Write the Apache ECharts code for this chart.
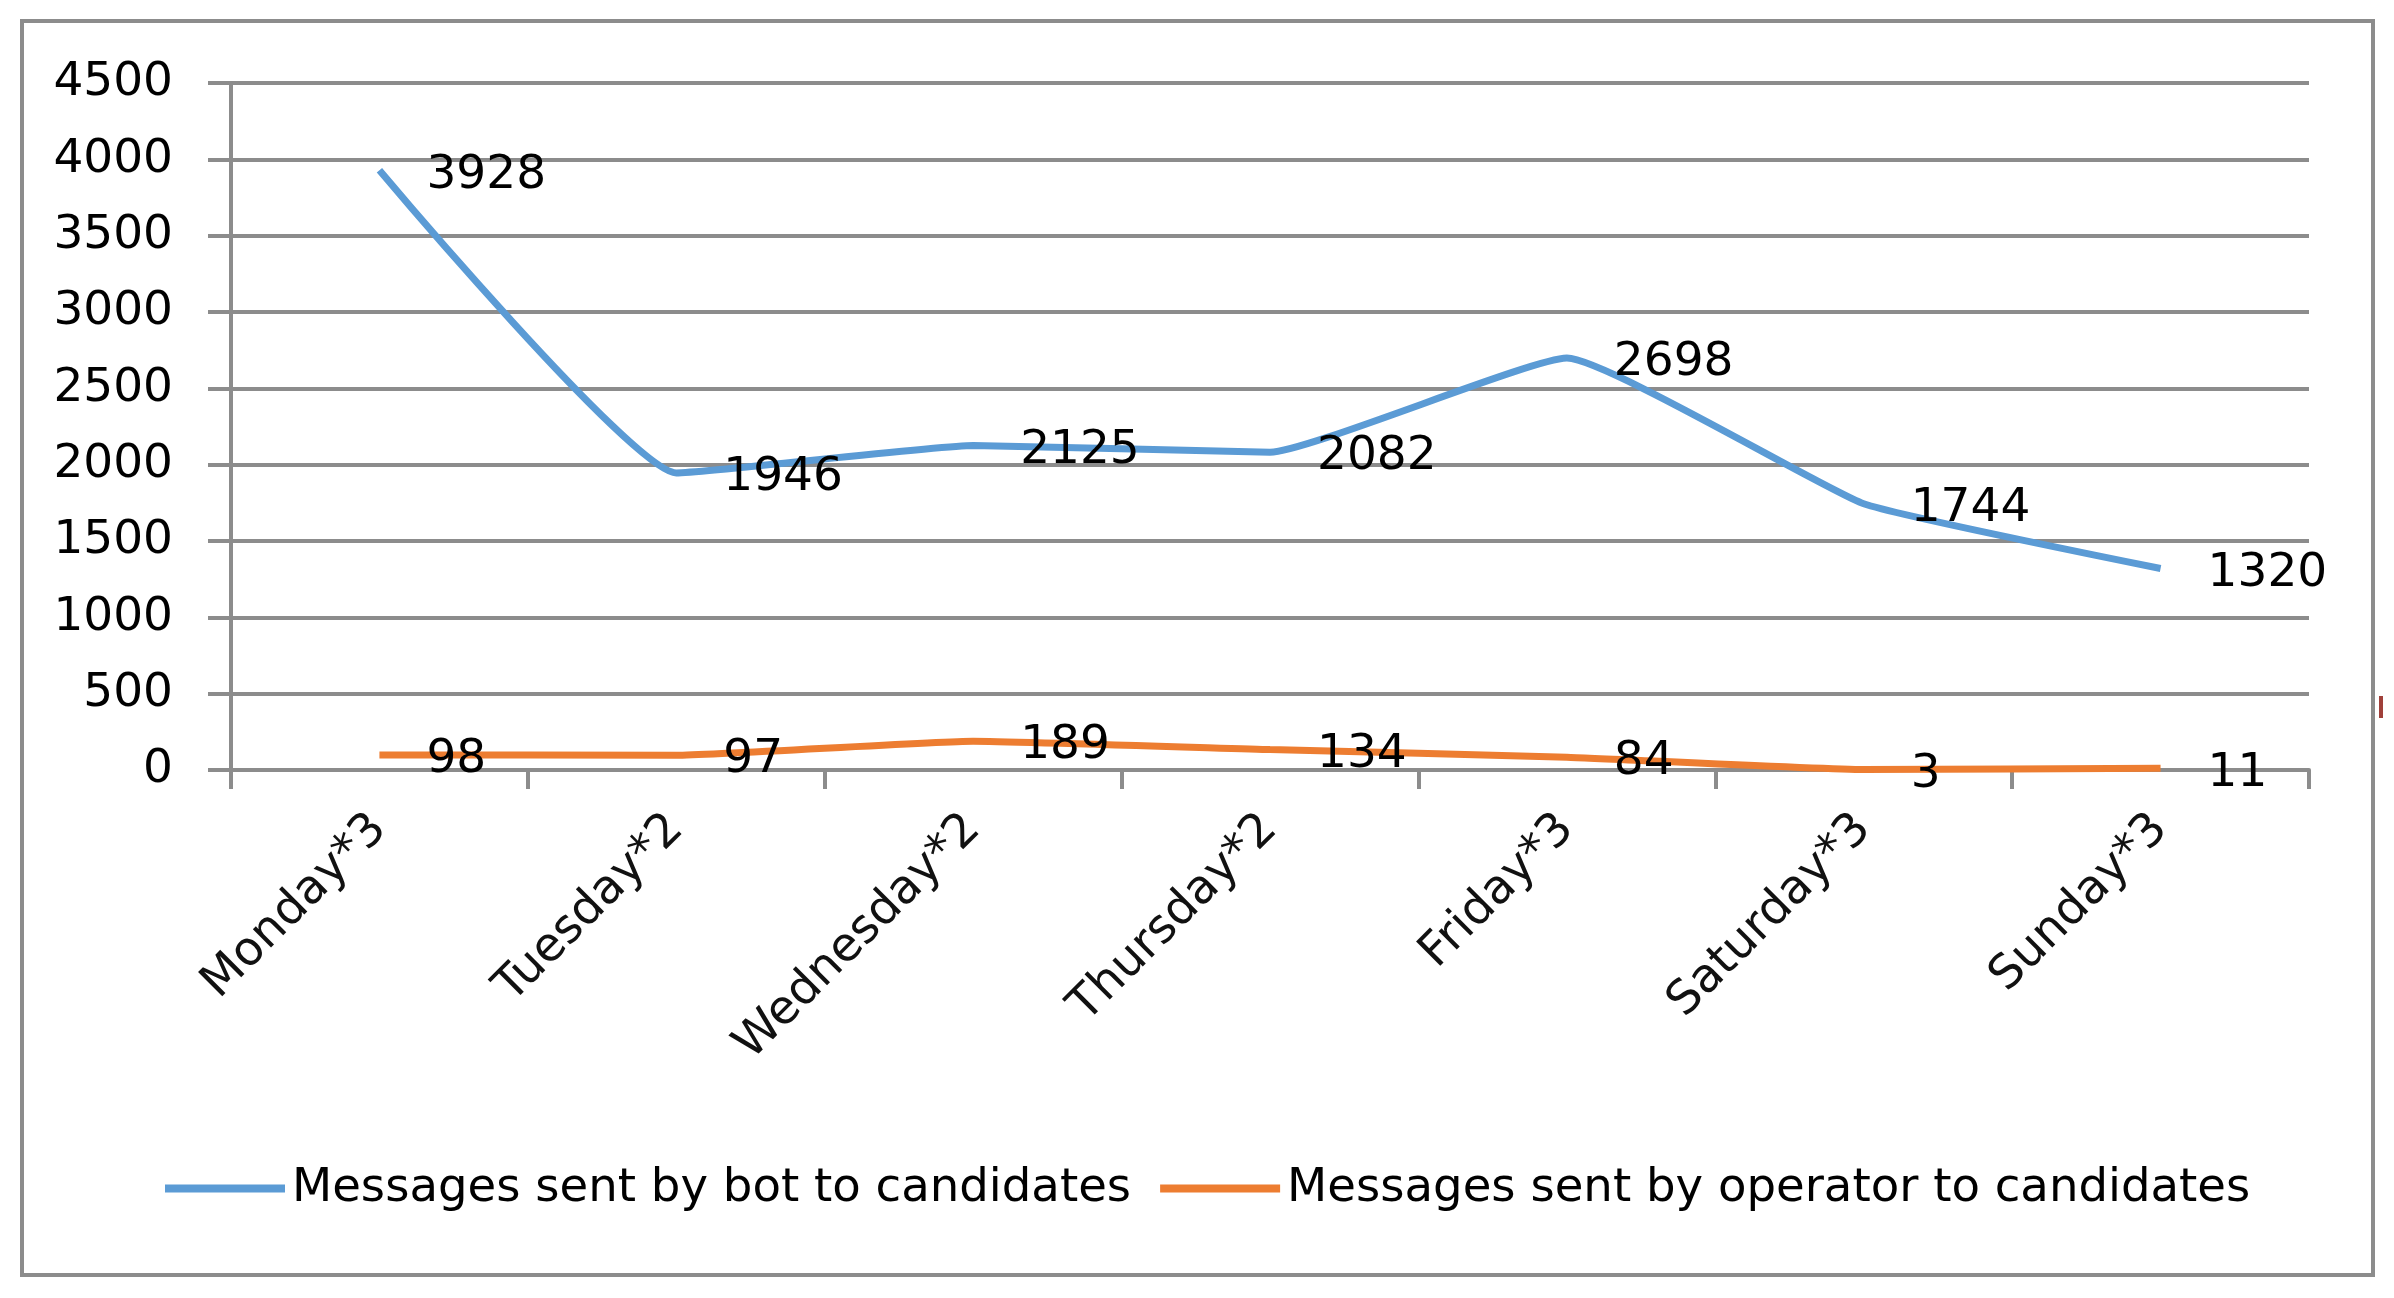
<!DOCTYPE html>
<html>
<head>
<meta charset="utf-8">
<script src="https://cdn.jsdelivr.net/npm/echarts@6/dist/echarts.min.js"></script>
<style>
html,body{margin:0;padding:0;background:#fff;}
#chart{width:2394px;height:1298px;}
</style>
</head>
<body>
<div id="chart"></div>
<script>
var categories = ['Monday*3','Tuesday*2','Wednesday*2','Thursday*2','Friday*3','Saturday*3','Sunday*3'];
var botMessages = [3928,1946,2125,2082,2698,1744,1320];
var operatorMessages = [98,97,189,134,84,3,11];
var seriesNames = ['Messages sent by bot to candidates','Messages sent by operator to candidates'];
var yMin = 0, yMax = 4500, yInterval = 500;

var FONT = 'DejaVu Sans';
var chart = echarts.init(document.getElementById('chart'));
var labelCfg = {
  show: true, position: 'right', distance: 47, offset: [0, 5],
  color: '#000', fontFamily: FONT, fontSize: 47
};
chart.setOption({
  animation: false,
  backgroundColor: '#fff',
  textStyle: {fontFamily: FONT},
  graphic: [
    {type: 'rect', shape: {x: 22, y: 21, width: 2351, height: 1254},
     style: {fill: 'none', stroke: '#8c8c8c', lineWidth: 4}, z: 100},
    {type: 'rect', shape: {x: 2379, y: 696, width: 4, height: 22},
     style: {fill: '#a0403a'}, z: 100}
  ],
  grid: {left: 231, right: 2394 - 2309, top: 83, bottom: 1298 - 770, containLabel: false},
  legend: {
    left: 160, top: 1160,
    itemWidth: 120, itemHeight: 8, itemGap: 29,
    icon: 'rect',
    textStyle: {fontFamily: FONT, fontSize: 46.6, color: '#000', padding: [0,0,0,2]},
    data: seriesNames
  },
  xAxis: {
    type: 'category',
    data: categories,
    boundaryGap: true,
    axisLine: {lineStyle: {color: '#8c8c8c', width: 4}},
    axisTick: {show: true, length: 19, lineStyle: {color: '#8c8c8c', width: 4}},
    axisLabel: {rotate: 45, margin: 52, color: '#111', fontFamily: FONT, fontSize: 47, interval: 0}
  },
  yAxis: {
    type: 'value',
    min: yMin, max: yMax, interval: yInterval,
    axisLine: {show: true, lineStyle: {color: '#8c8c8c', width: 4}},
    axisTick: {show: true, length: 23, lineStyle: {color: '#8c8c8c', width: 4}},
    splitLine: {show: true, lineStyle: {color: '#8c8c8c', width: 4}},
    axisLabel: {margin: 58, color: '#000', fontFamily: FONT, fontSize: 47,
      formatter: function (v) { return String(v); }}
  },
  series: [
    {
      name: seriesNames[0], type: 'line', data: botMessages,
      smooth: 0.12, symbol: 'circle', symbolSize: 0.01, showSymbol: true,
      itemStyle: {color: '#5b9bd5'},
      lineStyle: {color: '#5b9bd5', width: 7},
      label: labelCfg
    },
    {
      name: seriesNames[1], type: 'line', data: operatorMessages,
      smooth: 0.12, symbol: 'circle', symbolSize: 0.01, showSymbol: true,
      itemStyle: {color: '#ed7d31'},
      lineStyle: {color: '#ed7d31', width: 7},
      label: labelCfg
    }
  ]
});
</script>
</body>
</html>
